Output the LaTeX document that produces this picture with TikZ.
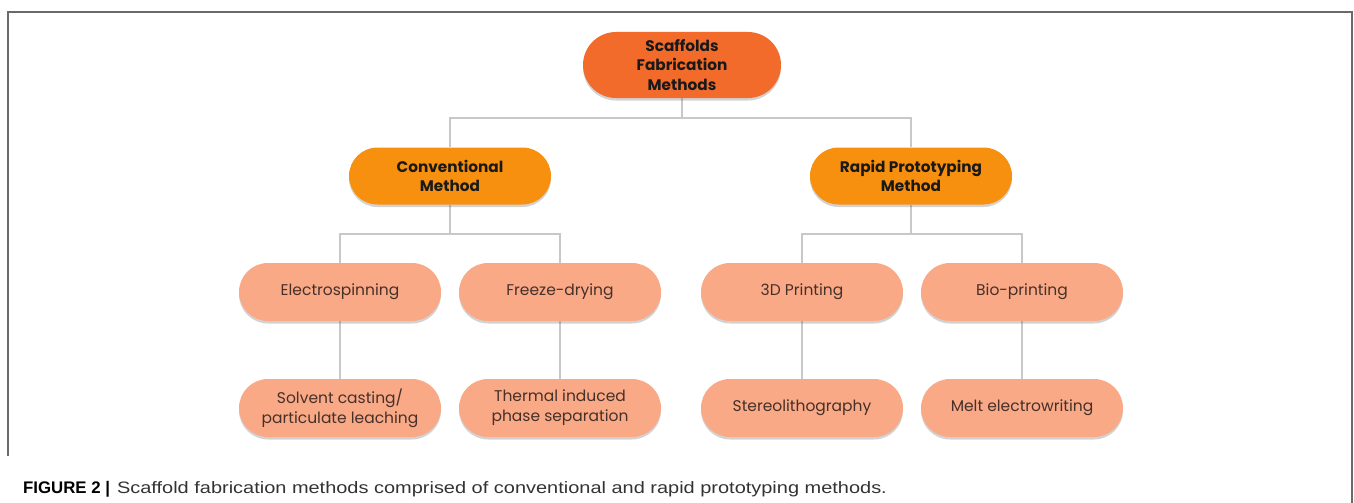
\documentclass[tikz,border=0pt]{standalone}
\usepackage{fontspec}
\setmainfont{Poppins}
\newfontfamily\capboldfont{Liberation Sans Bold}
\newfontfamily\captextfont[FakeStretch=1.21]{Liberation Sans}
\usetikzlibrary{shadows,backgrounds}

\definecolor{rootfill}{HTML}{F26B2A}
\definecolor{midfill}{HTML}{F7900F}
\definecolor{leaffill}{HTML}{F9A985}
\definecolor{leaftext}{HTML}{45302A}
\definecolor{linkgray}{HTML}{C8C8C8}
\definecolor{framegray}{HTML}{6A6A6A}
\definecolor{captext}{HTML}{333333}

\tikzset{
  pill/.style={rectangle, align=center, inner sep=0pt,
    drop shadow={shadow xshift=0pt, shadow yshift=-2.5pt, opacity=0.25, fill=black!70}},
  rootbox/.style={pill, fill=rootfill, minimum width=198pt, minimum height=66pt,
    rounded corners=33pt, font=\fontsize{15.3}{19.5}\selectfont\bfseries, text=black!90},
  midbox/.style={pill, fill=midfill, minimum width=202pt, minimum height=57pt,
    rounded corners=28.5pt, font=\fontsize{15.3}{19.5}\selectfont\bfseries, text=black!90},
  leafbox/.style={pill, fill=leaffill, minimum width=202pt, minimum height=58pt,
    rounded corners=29pt, font=\fontsize{15.5}{20}\selectfont, text=leaftext},
  link/.style={draw=linkgray, line width=1.4pt},
}

\begin{document}
\begin{tikzpicture}[x=1pt, y=-1pt]
\useasboundingbox (0,0) rectangle (1354,503);

% open frame
\draw[framegray, line width=1.5pt] (8,456) -- (8,12) -- (1352,12) -- (1352,503);

% tree nodes
\node[rootbox] (root) at (682,65) {Scaffolds\\Fabrication\\Methods};
\node[midbox] (conv) at (450,176) {Conventional\\Method};
\node[midbox] (rapid) at (911,176) {Rapid Prototyping\\Method};

\node[leafbox] (elec) at (340,292) {Electrospinning};
\node[leafbox] (freeze) at (560,292) {Freeze-drying};
\node[leafbox] (print) at (802,292) {3D Printing};
\node[leafbox] (bio) at (1022,292) {Bio-printing};

\node[leafbox] (solvent) at (340,408) {Solvent casting/\\particulate leaching};
\node[leafbox] (thermal) at (560,408) {Thermal induced\\phase separation};
\node[leafbox] (stereo) at (802,408) {Stereolithography};
\node[leafbox] (melt) at (1022,408) {Melt electrowriting};

% bus coordinates
\coordinate (bus1) at (682,118);
\coordinate (bus2l) at (450,234);
\coordinate (bus2r) at (911,234);

% connectors
\begin{scope}[on background layer]
\draw[link] (root.south) -- (bus1);
\draw[link] (bus1) -| (conv.north);
\draw[link] (bus1) -| (rapid.north);
\draw[link] (conv.south) -- (bus2l);
\draw[link] (bus2l) -| (elec.north);
\draw[link] (bus2l) -| (freeze.north);
\draw[link] (rapid.south) -- (bus2r);
\draw[link] (bus2r) -| (print.north);
\draw[link] (bus2r) -| (bio.north);
\draw[link] (elec.south) -- (solvent.north);
\draw[link] (freeze.south) -- (thermal.north);
\draw[link] (print.south) -- (stereo.north);
\draw[link] (bio.south) -- (melt.north);
\end{scope}

% caption
\node[anchor=base west, inner sep=0pt, text=captext] (cap) at (23,493)
  {{\capboldfont\fontsize{16.8}{19}\selectfont\color{black}FIGURE 2 |}\hspace{7pt}%
   {\captextfont\fontsize{16.5}{19}\selectfont Scaffold fabrication methods comprised of conventional and rapid prototyping methods.}};
\end{tikzpicture}
\end{document}
